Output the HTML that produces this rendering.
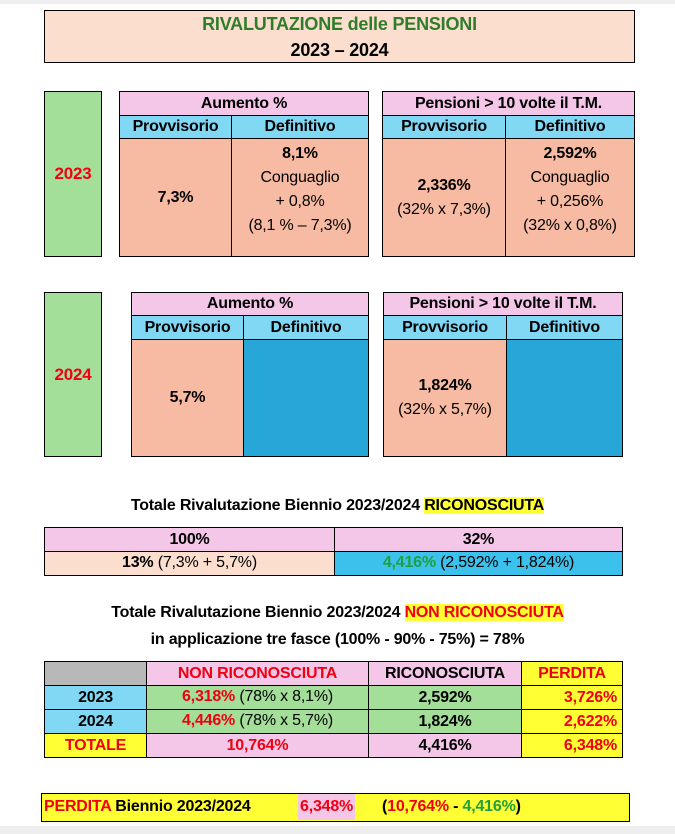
<!DOCTYPE html><html><head><meta charset="utf-8"><style>
body{margin:0;width:675px;height:834px;background:#fff;font-family:"Liberation Sans",sans-serif;position:relative;overflow:hidden}
div{position:absolute;box-sizing:border-box}
.b{border:1.5px solid #000}
.c{display:flex;align-items:center;justify-content:center;text-align:center;flex-direction:column;font-size:16px;line-height:18px;letter-spacing:-0.2px}
.bd{font-weight:bold}
.pink{background:#f4c6e8}.cy{background:#80d8f4}.sal{background:#f7bba3}.gr{background:#a3df99}.blue{background:#27a7d8}.yel{background:#ffff33}.peach{background:#fbdece}
.red{color:#f00012}.grn{color:#1fa040}
</style></head><body>
<div style="left:0;top:0;width:675px;height:4px;background:#eee"></div>
<div class="b c peach" style="left:44px;top:10px;width:591px;height:53px;font-size:18px;line-height:26px;font-weight:bold"><span style="color:#2f7d2a">RIVALUTAZIONE delle PENSIONI</span><span>2023 – 2024</span></div>

<div class="b c gr bd red" style="left:44px;top:91px;width:58px;height:166px;font-size:17px">2023</div>
<div class="b c pink bd" style="left:119px;top:91px;width:250px;height:25px">Aumento %</div>
<div class="b c cy bd" style="left:119px;top:115px;width:113px;height:24px">Provvisorio</div>
<div class="b c cy bd" style="left:231px;top:115px;width:138px;height:24px">Definitivo</div>
<div class="b c sal bd" style="left:119px;top:138px;width:113px;height:119px">7,3%</div>
<div class="b c sal" style="left:231px;top:138px;width:138px;height:119px;justify-content:flex-start;padding-top:3px;line-height:24px"><b>8,1%</b>Conguaglio<br>+ 0,8%<br>(8,1 % – 7,3%)</div>
<div class="b c pink bd" style="left:382px;top:91px;width:253px;height:25px">Pensioni &gt; 10 volte il T.M.</div>
<div class="b c cy bd" style="left:382px;top:115px;width:124px;height:24px">Provvisorio</div>
<div class="b c cy bd" style="left:505px;top:115px;width:130px;height:24px">Definitivo</div>
<div class="b c sal" style="left:382px;top:138px;width:124px;height:119px;line-height:24px"><b>2,336%</b>(32% x 7,3%)</div>
<div class="b c sal" style="left:505px;top:138px;width:130px;height:119px;justify-content:flex-start;padding-top:3px;line-height:24px"><b>2,592%</b>Conguaglio<br>+ 0,256%<br>(32% x 0,8%)</div>

<div class="b c gr bd red" style="left:44px;top:292px;width:58px;height:165px;font-size:17px">2024</div>
<div class="b c pink bd" style="left:131px;top:292px;width:238px;height:24px">Aumento %</div>
<div class="b c cy bd" style="left:131px;top:315px;width:113px;height:25px">Provvisorio</div>
<div class="b c cy bd" style="left:243px;top:315px;width:126px;height:25px">Definitivo</div>
<div class="b c sal bd" style="left:131px;top:339px;width:113px;height:118px">5,7%</div>
<div class="b blue" style="left:243px;top:339px;width:126px;height:118px"></div>
<div class="b c pink bd" style="left:383px;top:292px;width:240px;height:24px">Pensioni &gt; 10 volte il T.M.</div>
<div class="b c cy bd" style="left:383px;top:315px;width:124px;height:25px">Provvisorio</div>
<div class="b c cy bd" style="left:506px;top:315px;width:117px;height:25px">Definitivo</div>
<div class="b c sal" style="left:383px;top:339px;width:124px;height:118px;line-height:24px"><b>1,824%</b>(32% x 5,7%)</div>
<div class="b blue" style="left:506px;top:339px;width:117px;height:118px"></div>

<div class="c bd" style="left:0;top:494px;width:675px;height:24px;display:block;text-align:center;line-height:24px">Totale Rivalutazione Biennio 2023/2024 <span style="background:#ffff33">RICONOSCIUTA</span></div>
<div class="b c pink bd" style="left:44px;top:527px;width:291px;height:25px">100%</div>
<div class="b c pink bd" style="left:334px;top:527px;width:289px;height:25px">32%</div>
<div class="b c peach" style="left:44px;top:551px;width:291px;height:25px;display:block;line-height:22px"><b>13%</b> (7,3% + 5,7%)</div>
<div class="b c" style="left:334px;top:551px;width:289px;height:25px;display:block;line-height:22px;background:#3cc0ec"><b class="grn">4,416%</b> (2,592% + 1,824%)</div>

<div class="bd" style="left:0;top:599px;width:675px;text-align:center;font-size:16px;line-height:27px;letter-spacing:-0.2px">Totale Rivalutazione Biennio 2023/2024 <span class="red" style="background:#ffff33">NON RICONOSCIUTA</span><br>in applicazione tre fasce (100% - 90% - 75%) = 78%</div>

<div class="b" style="left:44px;top:661px;width:103px;height:25px;background:#b8b8b8"></div>
<div class="b c pink bd red" style="left:146px;top:661px;width:223px;height:25px">NON RICONOSCIUTA</div>
<div class="b c pink bd" style="left:368px;top:661px;width:154px;height:25px">RICONOSCIUTA</div>
<div class="b c yel bd red" style="left:521px;top:661px;width:102px;height:25px">PERDITA</div>
<div class="b c cy bd" style="left:44px;top:685px;width:103px;height:25px">2023</div>
<div class="b c gr" style="left:146px;top:685px;width:223px;height:25px;display:block;line-height:22px"><b class="red">6,318%</b> (78% x 8,1%)</div>
<div class="b c gr bd" style="left:368px;top:685px;width:154px;height:25px">2,592%</div>
<div class="b c yel bd red" style="left:521px;top:685px;width:102px;height:25px;align-items:flex-end;padding-right:5px">3,726%</div>
<div class="b c cy bd" style="left:44px;top:709px;width:103px;height:25px">2024</div>
<div class="b c gr" style="left:146px;top:709px;width:223px;height:25px;display:block;line-height:22px"><b class="red">4,446%</b> (78% x 5,7%)</div>
<div class="b c gr bd" style="left:368px;top:709px;width:154px;height:25px">1,824%</div>
<div class="b c yel bd red" style="left:521px;top:709px;width:102px;height:25px;align-items:flex-end;padding-right:5px">2,622%</div>
<div class="b c yel bd red" style="left:44px;top:733px;width:103px;height:25px">TOTALE</div>
<div class="b c pink bd red" style="left:146px;top:733px;width:223px;height:25px">10,764%</div>
<div class="b c pink bd" style="left:368px;top:733px;width:154px;height:25px">4,416%</div>
<div class="b c yel bd red" style="left:521px;top:733px;width:102px;height:25px;align-items:flex-end;padding-right:5px">6,348%</div>

<div class="b yel bd" style="left:41px;top:793px;width:589px;height:29px;font-size:16px;line-height:26px;padding-left:2px;white-space:nowrap;letter-spacing:-0.2px"><span class="red">PERDITA</span> Biennio 2023/2024 <span style="position:absolute;left:256px;top:0;height:26px;background:#f4c6e8;padding:0 2px" class="red">6,348%</span><span style="position:absolute;left:340px;top:0">(<span class="red">10,764%</span> - <span class="grn">4,416%</span>)</span></div>
<div style="left:0;top:826px;width:675px;height:8px;background:#eee"></div>
</body></html>
